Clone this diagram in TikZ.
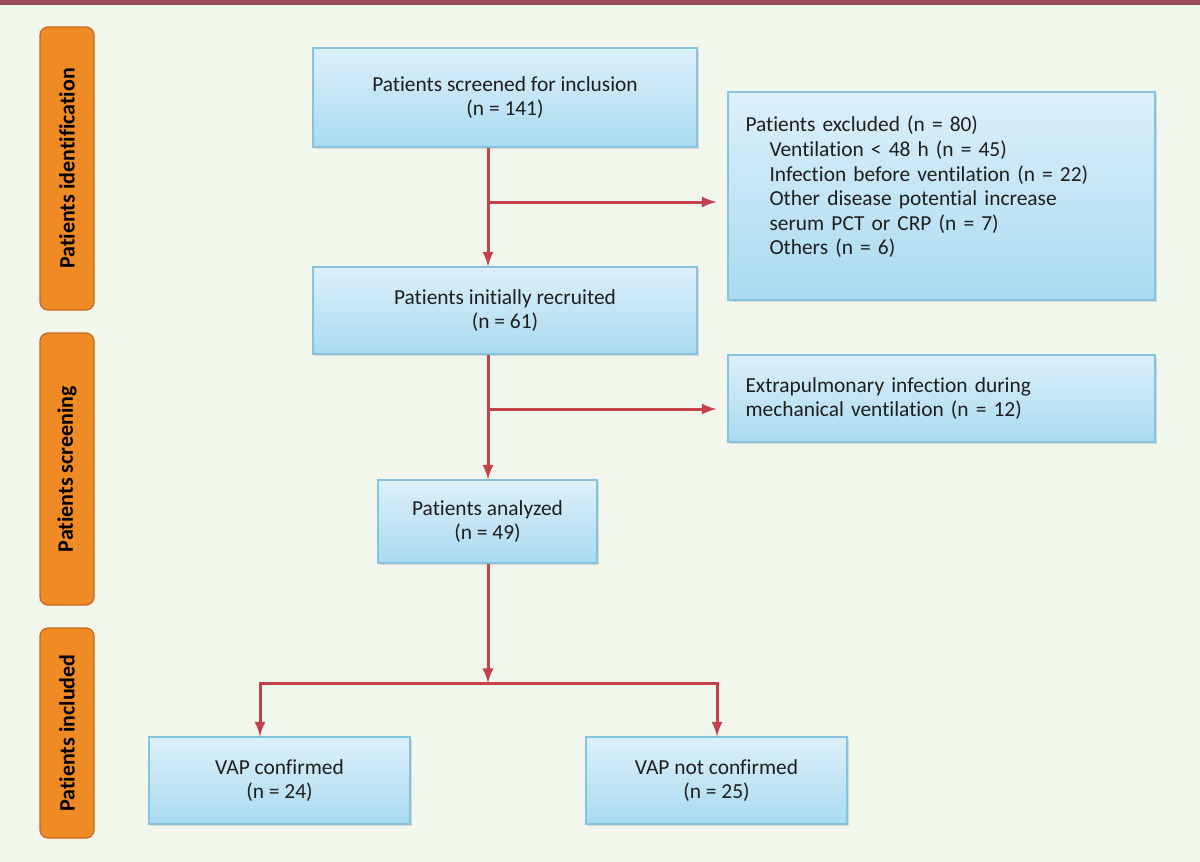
\documentclass[tikz,border=0pt]{standalone}
\usepackage{fontspec}
\setmainfont{Carlito}[Ligatures=NoCommon]
\usetikzlibrary{arrows,shadows}
\definecolor{bgcol}{HTML}{F2F7EE}
\definecolor{barcol}{HTML}{9C4B58}
\definecolor{labcol}{HTML}{F08A24}
\definecolor{labline}{HTML}{C56A1C}
\definecolor{boxline}{HTML}{86C3DE}
\definecolor{boxtop}{HTML}{DDF0FA}
\definecolor{boxbot}{HTML}{A9DAF0}
\definecolor{arrcol}{HTML}{C5414A}
\definecolor{txtcol}{HTML}{1E1E1E}

\begin{document}
\begin{tikzpicture}[x=0.5pt,y=-0.5pt,
 stagelab/.style={rotate=90,draw=labline,fill=labcol,rounded corners=4pt,line width=0.6pt,
  minimum height=27pt,inner sep=0pt,font=\bfseries\fontsize{11}{13}\selectfont,text=black},
 flowbox/.style={draw=boxline,top color=boxtop,bottom color=boxbot,line width=0.6pt,
  drop shadow={shadow xshift=0.8pt,shadow yshift=-1pt,opacity=0.25},
  inner sep=0pt,align=center,text=txtcol,font=\fontsize{10.7}{12.3}\selectfont},
 sidebox/.style={flowbox,minimum width=213.5pt,text width=196pt,align=left},
 arr/.style={draw=arrcol,line width=1.5pt,-latex}]

\fill[bgcol] (0,0) rectangle (1200,862);
\fill[barcol] (0,0) rectangle (1200,5);

% stages
\node[stagelab,minimum width=141.5pt] (idlab) at (67,168.5) {Patients identification};
\node[stagelab,minimum width=136pt] (scrlab) at (67,469) {Patients screening};
\node[stagelab,minimum width=105pt] (inclab) at (67,733) {Patients included};

% boxes
\node[flowbox,minimum width=192pt,minimum height=49.5pt] (screen) at (505,97.5) {Patients screened for inclusion\\(n = 141)};
\node[sidebox,minimum height=104pt] (excl) at (941.5,196) {Patients excluded (n = 80)\\
\hspace*{12pt}Ventilation < 48 h (n = 45)\\
\hspace*{12pt}Infection before ventilation (n = 22)\\
\hspace*{12pt}Other disease potential increase\\
\hspace*{12pt}serum PCT or CRP (n = 7)\\
\hspace*{12pt}Others (n = 6)\par\vspace*{9pt}};
\node[flowbox,minimum width=192pt,minimum height=43.5pt] (recr) at (505,310.5) {Patients initially recruited\\(n = 61)};
\node[sidebox,minimum height=43.5pt] (extra) at (941.5,398.5) {Extrapulmonary infection during\\mechanical ventilation (n = 12)};
\node[flowbox,minimum width=109.5pt,minimum height=41.5pt] (anal) at (487.5,521.5) {Patients analyzed\\(n = 49)};
\node[flowbox,minimum width=130.5pt,minimum height=43.5pt] (vapy) at (279.5,780.5) {VAP confirmed\\(n = 24)};
\node[flowbox,minimum width=130.5pt,minimum height=43.5pt] (vapn) at (716.5,780.5) {VAP not confirmed\\(n = 25)};

\coordinate (t1) at (488,202);
\coordinate (t2) at (488,409);
\coordinate (t3) at (488,683);
\coordinate (l3) at (260,683);
\coordinate (r3) at (717,683);

\draw[arr] (screen.south -| t1) -- (recr.north -| t1);
\draw[arr,shorten >=5.5pt] (t1) -- (excl.west |- t1);
\draw[arr] (recr.south -| t2) -- (anal.north -| t2);
\draw[arr,shorten >=5.5pt] (t2) -- (extra.west |- t2);
\draw[arr] (anal.south -| t3) -- (t3);
\draw[arr] (t3) -| (vapy.north -| l3);
\draw[arr] (t3) -| (vapn.north -| r3);
\end{tikzpicture}
\end{document}
